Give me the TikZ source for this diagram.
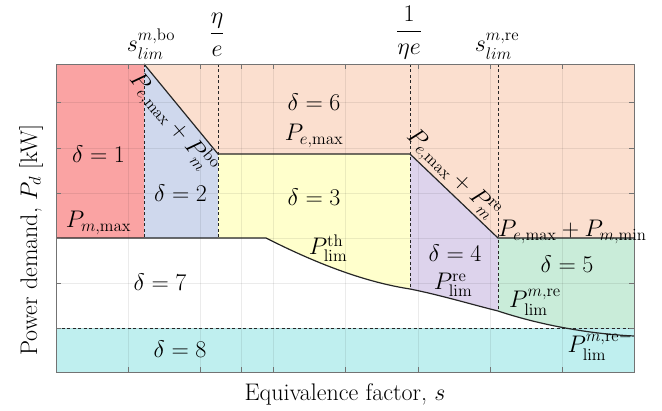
\RequirePackage{fix-cm}
\documentclass[tikz,border=0pt]{standalone}
\usepackage{amsmath}
\definecolor{cred}{RGB}{250,163,163}
\definecolor{cpeach}{RGB}{251,223,207}
\definecolor{cblue}{RGB}{207,216,237}
\definecolor{cyellow}{RGB}{255,255,204}
\definecolor{cpurple}{RGB}{221,211,236}
\definecolor{cgreen}{RGB}{201,236,217}
\definecolor{ccyan}{RGB}{191,239,239}
\definecolor{caxis}{RGB}{115,115,115}
\begin{document}
\begin{tikzpicture}[x=1pt,y=-1pt,font=\fontsize{24}{29}\selectfont,
  bnd/.style={line width=1.2pt,draw=black!85},
  dsh/.style={line width=0.9pt,dash pattern=on 3pt off 2.5pt,draw=black!85},
  gridl/.style={draw=black,opacity=0.08,line width=0.6pt},
  axl/.style={draw=caxis,line width=0.8pt},
  lbl/.style={anchor=base,inner sep=0pt}]
\useasboundingbox (0,0) rectangle (662,411);
% key points
\coordinate (TL) at (56,64);
\coordinate (BR) at (634,372);
\coordinate (A) at (144,64);
\coordinate (B) at (218,154);
\coordinate (C) at (410,154);
\coordinate (D) at (498,238);
\coordinate (E) at (634,238);
\coordinate (F) at (266,238);
\coordinate (G) at (410,289);
\coordinate (H) at (498,311);
\coordinate (I) at (634,336);
\coordinate (L) at (56,238);
% fills
\fill[cpeach] (144,64) rectangle (634,238);
\fill[cred] (56,64) rectangle (144,238);
\fill[cblue] (A) -- (B) -- (218,238) -- (144,238) -- cycle;
\fill[cyellow] (B) -- (C) -- (G) .. controls (378,284) and (333,272) .. (F) -- (218,238) -- cycle;
\fill[cpurple] (C) -- (D) -- (H) .. controls (470,304) and (440,295) .. (G) -- cycle;
\fill[cgreen] (D) -- (E) -- (I) .. controls (590,334) and (540,325) .. (H) -- cycle;
\fill[ccyan] (56,328) rectangle (634,372);
% grid
\foreach \gx in {128,200,241.5,273,345.5,418,490,562}{
  \draw[gridl] (\gx,64) -- (\gx,372);}
\foreach \gy in {102.5,148,193,238,283,328}{
  \draw[gridl] (56,\gy) -- (634,\gy);}
% dashed
\draw[dsh] (144,64) -- (144,238);
\draw[dsh] (218,64) -- (218,238);
\draw[dsh] (410,64) -- (G);
\draw[dsh] (498,64) -- (H);
\draw[dsh] (56,328) -- (634,328);
% solid boundaries
\draw[bnd] (L) -- (F) .. controls (333,272) and (378,284) .. (G)
  .. controls (440,295) and (470,304) .. (H)
  .. controls (540,325) and (590,334) .. (I);
\draw[bnd] (A) -- (B) -- (C) -- (D) -- (E);
% axes box and ticks
\draw[axl] (TL) rectangle (BR);
\foreach \gx in {128,200,241.5,273,345.5,418,490,562}{
  \draw[axl] (\gx,64) -- (\gx,69);
  \draw[axl] (\gx,372) -- (\gx,367);}
\foreach \gy in {102.5,148,193,238,283,328}{
  \draw[axl] (56,\gy) -- (61,\gy);
  \draw[axl] (634,\gy) -- (629,\gy);}
% sloped labels
\path (A) -- (B) node[pos=0.55,sloped,anchor=north,inner sep=1pt] {$P_{e,\max}+P_m^{\mathrm{bo}}$};
\path (C) -- (D) node[pos=0.37,sloped,anchor=south,inner sep=2pt] {$P_{e,\max}+P_m^{\mathrm{re}}$};
% region labels
\node[lbl] (d1) at (98.5,163) {$\delta=1$};
\node[lbl] (d2) at (180.5,202) {$\delta=2$};
\node[lbl] (pmmax) at (98.5,228) {$P_{m,\max}$};
\node[lbl] (d6) at (314,111) {$\delta=6$};
\node[lbl] (pemax) at (314,141) {$P_{e,\max}$};
\node[lbl] (d3) at (314,206) {$\delta=3$};
\node[lbl] (d7) at (160,291) {$\delta=7$};
\node[lbl] (d8) at (180,358) {$\delta=8$};
\node[lbl] (pth) at (328,255) {$P_{\mathrm{lim}}^{\mathrm{th}}$};
\node[lbl] (d4) at (455,262) {$\delta=4$};
\node[lbl] (pre) at (453,290) {$P_{\mathrm{lim}}^{\mathrm{re}}$};
\node[lbl,anchor=base west] (pemin) at (498,236.5) {$P_{e,\max}+P_{m,\min}$};
\node[lbl] (d5) at (567,273) {$\delta=5$};
\node[lbl] (pmre) at (535,308) {$P_{\mathrm{lim}}^{m,\mathrm{re}}$};
\node[lbl] (pmrem) at (600,353) {$P_{\mathrm{lim}}^{m,\mathrm{re}-}$};
% top tick labels
\node[lbl] (t1) at (151,52) {$s_{lim}^{m,\mathrm{bo}}$};
\node[lbl] (t2) at (217,40) {$\dfrac{\eta}{e}$};
\node[lbl] (t3) at (409,38) {$\dfrac{1}{\eta e}$};
\node[lbl] (t4) at (497,52) {$s_{lim}^{m,\mathrm{re}}$};
% axis labels
\node[lbl] (xl) at (345,401) {Equivalence factor, $s$};
\node[lbl,rotate=90] (yl) at (37,240) {Power demand, $P_d$ [kW]};
\end{tikzpicture}
\end{document}
